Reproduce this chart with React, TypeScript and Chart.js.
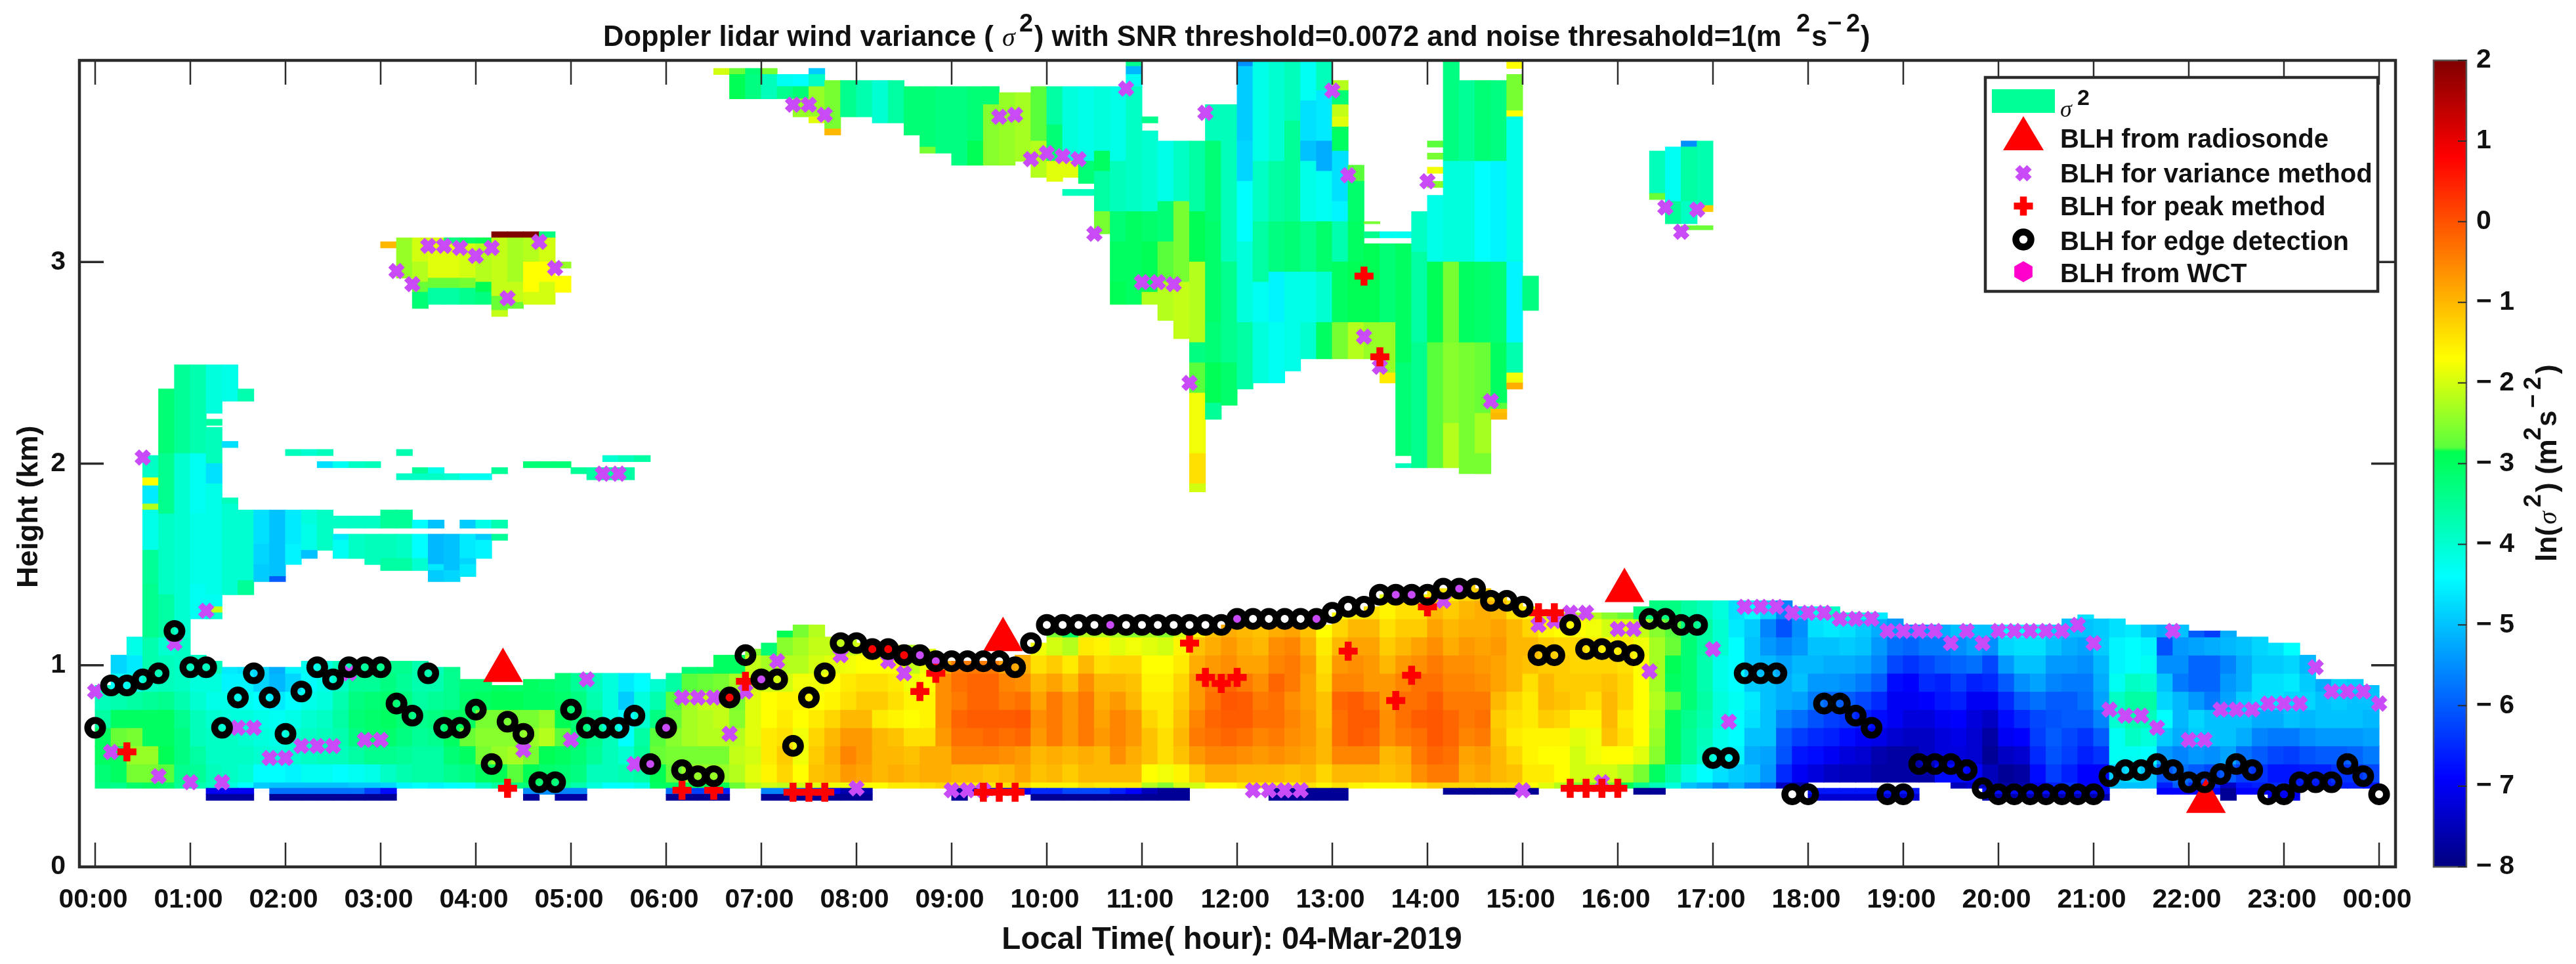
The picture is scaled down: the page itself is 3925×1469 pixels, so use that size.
import React, { useEffect, useRef } from "react";
import { Chart, registerables } from "chart.js";
Chart.register(...registerables);

const FONT = "'Liberation Sans'";
// height band edges (km) of the boundary-layer block
const BAND_EDGES = [.39,.42,.51,.60,.69,.78,.87,.96,1.05,1.14,1.23,1.32,1.41];
// every row: one 10-minute column: [top of layer, then ln(var) per band from the bottom up]
const HOUR_00 = [
[.90,-3.3,-3.2,-3,-3,-3.6,-3.8,-3.9],
[1.05,-3.4,-3,-3,-2.7,-3,-3.7,-4.4,-4.8],
[1.14,-3.1,-2.6,-2.4,-2.6,-3,-3.6,-4.2,-4.6,-4.2],
[1.14,-3,-2.6,-2.4,-3,-3,-3.5,-3.9,-3.7,-3.7],
[1.14,-3.1,-2.8,-2.9,-3,-3,-3.4,-3.8,-3.8,-4],
[1.14,-3.5,-3.4,-3.3,-3.3,-3.4,-3.7,-3.9,-3.9,-3.9]];
const HOUR_01 = [
[1.05,-3.7,-3.5,-3.6,-3.8,-3.8,-4,-4.1,-3.9],
[1.02,-3.9,-3.8,-3.9,-3.9,-4,-4.2,-4.1,-3.8],
[.99,-4.1,-3.9,-3.9,-3.9,-4.1,-4.2,-4.5,-4.6],
[.99,-4.4,-4,-3.9,-4,-4.1,-4.3,-4.5,-4.7],
[.99,-4.9,-4.4,-4,-4.1,-4.2,-4.4,-4.8,-4.8],
[.99,-5,-4.4,-4.1,-4.2,-4.3,-4.6,-5.1,-5.2]];
const HOUR_02 = [
[.99,-5,-4.5,-4,-4,-4.2,-4.4,-4.8,-4.5],
[1.02,-5,-4.3,-3.9,-3.9,-4,-4.2,-4.4,-4.3],
[1.02,-5,-4.3,-3.8,-3.8,-3.9,-4.1,-4.2,-4.1],
[1.02,-5,-4.4,-3.8,-3.7,-3.6,-3.7,-3.9,-3.8],
[1.02,-4.9,-4.3,-3.6,-3.3,-3.2,-3.3,-3.5,-3.6],
[1.02,-4.9,-4.2,-3.4,-3.1,-3.1,-3.2,-3.5,-3.5]];
const HOUR_03 = [
[1.02,-4.8,-3.9,-3.4,-3.1,-3,-3.1,-3.3,-3.4],
[1.02,-4.5,-3.7,-3.5,-3.3,-3.2,-3.3,-3.5,-3.4],
[1.02,-4.4,-3.6,-3.6,-3.5,-3.4,-3.6,-3.7,-3.7],
[.99,-4.5,-3.6,-3.6,-3.4,-3.3,-3.5,-3.7,-3.8],
[.99,-4.4,-3.4,-3.2,-3,-3.1,-3.4,-3.4,-3.4],
[.93,-4.4,-3.3,-3,-2.7,-3,-3.1,-3.2]];
const HOUR_04 = [
[.93,-3.9,-3,-2.6,-2.5,-2.6,-3,-3.2],
[.90,-3.6,-2.9,-2.4,-2.5,-2.6,-2.9,-3],
[.90,-3.3,-2.8,-2.3,-2.5,-2.6,-2.9,-3.1],
[.93,-3.2,-2.9,-2.6,-2.4,-2.6,-3,-3],
[.93,-3.2,-3.1,-2.9,-2.2,-2.4,-3,-3.1],
[.96,-3.4,-3.2,-3,-2.8,-2.9,-3.1,-3.2]];
const HOUR_05 = [
[.96,-3.7,-3.3,-3.2,-3.1,-3.2,-3.3,-3.5],
[.96,-4.1,-3.8,-3.5,-3.4,-3.5,-3.7,-3.8],
[.96,-4.4,-3.8,-3.8,-3.8,-4.1,-4.1,-4.1],
[.96,-4.4,-3.7,-4,-4.4,-4.4,-4.9,-4.6],
[.96,-4.2,-3.6,-3.5,-3.6,-4,-4.1,-4.4],
[.93,-3,-2.9,-2.7,-2.8,-3.3,-3.7,-4]];
const HOUR_06 = [
[.96,-3,-2.7,-2.6,-2.5,-2.7,-2.8,-3.6],
[.99,-2.9,-2.4,-2.6,-2.3,-2.3,-2.3,-2.8,-3.2],
[.99,-2.9,-2.4,-2.6,-2.2,-2.2,-2.1,-2.7,-3.1],
[1.05,-2.9,-2.4,-2.6,-2.2,-2.1,-2.1,-2.6,-3],
[1.05,-2.7,-2.2,-2.1,-2.2,-2.5,-2.6,-2.3,-3],
[1.08,-2.2,-1.9,-2,-1.9,-1.9,-1.9,-2,-2.1,-2.5]];
const HOUR_07 = [
[1.11,-2,-1.6,-1.5,-1.5,-1.7,-1.7,-2,-2.3,-3.2],
[1.17,-2.1,-1.3,-1.2,-1.4,-1.5,-1.6,-2,-2.2,-2.5,-2.9],
[1.2,-2,-1.7,-1.8,-1.8,-1.7,-1.6,-1.8,-2.2,-2.3,-2.6],
[1.2,-1.9,-1.1,-1.2,-1.3,-1.5,-1.7,-1.8,-2,-2.1,-2.2],
[1.14,-1.8,-1,-.9,-1,-1.3,-1.6,-1.7,-1.9,-2.1],
[1.14,-1.8,-.7,-.5,-.7,-1,-1.4,-1.5,-1.8,-2.1]];
const HOUR_08 = [
[1.11,-1.7,-.8,-.7,-.7,-1,-1.2,-1.4,-1.7,-1.9],
[1.11,-1.7,-1,-1,-1,-1.5,-1.2,-1.4,-1.7,-1.9],
[1.1,-1.5,-.9,-1,-1.1,-1.6,-1.4,-1.5,-1.7,-1.8],
[1.1,-1.5,-1,-1.1,-1.4,-1.7,-1.6,-1.8,-2.1,-2.2],
[1.08,-1.4,-.9,-.9,-1.4,-1.6,-1.6,-1.7,-1.8,-1.9],
[1.02,-1.3,-.9,-.9,-.7,-.6,-.6,-.6,-.9]];
const HOUR_09 = [
[1.02,-1.4,-1,-.5,-.3,-.2,-.4,-.3,-.4],
[1.02,-1.5,-1,-.5,-.3,-.1,-.2,-.2,-.4],
[1.02,-1.5,-1.1,-.5,-.2,-.1,-.2,-.2,-.4],
[1.02,-1.4,-1,-.6,-.3,-.1,-.4,-.5,-.8],
[1.05,-1.3,-.8,-.7,-.2,-.05,-.3,-.6,-.9],
[1.11,-1.6,-1.1,-1,-.7,-.6,-.8,-1,-1.4,-1.8]];
const HOUR_10 = [
[1.17,-1.6,-1,-.9,-.4,-.4,-.4,-.8,-1.2,-2,-2.6],
[1.17,-1.6,-1.2,-1,-.7,-.7,-.7,-1.1,-1.5,-2.2,-3],
[1.17,-1.4,-1,-.9,-.4,-.4,-.4,-.6,-1,-1.5,-2.2],
[1.17,-1.5,-1,-1,-.7,-.8,-.9,-1,-1.4,-1.6,-2.2],
[1.17,-1.5,-1,-.6,-.5,-.5,-.7,-1,-1.3,-1.9,-2.3],
[1.17,-1.5,-1,-.9,-.7,-.7,-1,-1.1,-1.3,-1.8,-2.5]];
const HOUR_11 = [
[1.17,-2.2,-1.7,-1.1,-1.1,-1.3,-1.5,-1.6,-1.7,-1.9,-2.3],
[1.17,-2.5,-1.8,-1.4,-1.4,-1.5,-1.5,-1.6,-1.7,-2,-2.5],
[1.17,-2,-1.6,-1.1,-1,-1.1,-1.2,-1.3,-1.5,-1.6,-2],
[1.17,-2,-1.2,-.7,-.4,-.5,-.7,-.7,-.9,-1.1,-1.6],
[1.17,-1.7,-.9,-.5,-.3,-.2,-.3,-.4,-.7,-.9,-1.1],
[1.2,-1.7,-.9,-.5,-.2,-.1,-.05,-.2,-.6,-.7,-.9]];
const HOUR_12 = [
[1.2,-1.5,-1,-.6,-.3,-.1,-.1,-.4,-.8,-.9,-1],
[1.2,-1.5,-1,-.7,-.5,-.3,-.4,-.6,-.8,-1,-1.1],
[1.2,-1.6,-1,-.6,-.4,-.3,-.3,-.2,-.5,-.6,-.9],
[1.2,-1.6,-1.1,-.7,-.6,-.5,-.6,-.4,-.4,-.5,-.8],
[1.2,-1.4,-1,-.8,-.7,-.7,-.8,-.8,-.7,-.9,-1.1],
[1.2,-1.6,-1.3,-1,-1,-1.1,-1.1,-1.3,-1.4,-1.5,-1.7]];
const HOUR_13 = [
[1.26,-1.4,-1,-.5,-.3,-.3,-.2,-.5,-.7,-1,-1.3,-1.7],
[1.26,-1.6,-1,-.5,-.1,-.1,-.1,-.5,-.6,-.8,-1,-1.5],
[1.29,-1.7,-1,-.5,-.2,-.1,-.3,-.7,-.7,-.8,-1,-1.4],
[1.35,-1.7,-1.1,-1,-.6,-.6,-.7,-.7,-1,-1.2,-1.4,-1.6,-1.9],
[1.35,-1.7,-1,-.9,-.4,-.3,-.3,-.5,-.7,-1,-1.2,-1.4,-1.7],
[1.35,-1.4,-.6,-.4,-.3,-.1,-.3,-.3,-.6,-.8,-1.2,-1.4,-1.7]];
const HOUR_14 = [
[1.38,-1.2,-.4,-.2,-.05,-.05,-.1,-.3,-.4,-.6,-.8,-1,-1.4],
[1.38,-1.3,-.4,-.3,-.2,-.2,-.4,-.5,-.6,-.9,-1,-1.2,-1.5],
[1.4,-1.3,-.9,-.8,-.5,-.4,-.4,-.5,-.6,-.7,-.9,-1,-1.3],
[1.38,-1.4,-.8,-.7,-.4,-.3,-.4,-.6,-.7,-.8,-.9,-.9,-1.2],
[1.35,-1.4,-1,-1,-1.1,-1.2,-1,-.8,-.8,-.7,-.8,-1,-1.3],
[1.32,-1.4,-1.1,-1.3,-1.5,-1.4,-1.3,-1,-1,-1,-1,-1.4]];
const HOUR_15 = [
[1.29,-1.7,-1.5,-1.6,-1.6,-1.5,-1.5,-1.4,-1.1,-1,-1.3,-1.6],
[1.27,-1.9,-1.5,-1.7,-1.6,-1.2,-1,-1,-1.2,-1.2,-1.6,-1.9],
[1.26,-2.2,-1.7,-1.7,-1.6,-1.3,-1.1,-1.2,-1.2,-1.3,-1.7,-2.1],
[1.26,-2.6,-2,-2,-1.9,-1.6,-1.2,-1.2,-1.3,-1.3,-1.7,-2.2],
[1.26,-2.5,-2,-1.8,-1.8,-1.6,-1.4,-1.2,-1.3,-1.5,-1.8,-2.2],
[1.26,-2.6,-2,-1.7,-1.1,-1,-1,-1.1,-1.3,-1.6,-2,-2.5]];
const HOUR_16 = [
[1.26,-2.9,-2.2,-1.7,-1.4,-1.5,-1.3,-1.3,-1.4,-1.5,-1.9,-2.7],
[1.29,-3.4,-2.6,-1.9,-1.7,-1.7,-1.7,-1.7,-1.7,-1.8,-2.1,-3.2],
[1.32,-3.8,-3,-2.5,-2.4,-2.3,-2.2,-2.3,-2.3,-2.3,-2.5,-3.3],
[1.32,-4.1,-3.6,-3,-3,-3,-2.8,-3,-2.9,-2.7,-2.8,-3.3],
[1.32,-5,-4.1,-3.5,-3.5,-3.4,-3.2,-3.2,-3.2,-3.2,-3.3,-3.6],
[1.32,-5.2,-4.4,-3.9,-3.8,-3.7,-3.6,-3.7,-3.7,-3.6,-3.6,-3.8]];
const HOUR_17 = [
[1.32,-5.6,-4.7,-4.2,-4.2,-4.1,-4.1,-4.2,-4.2,-4,-4,-4.1],
[1.32,-5.2,-4.9,-4.5,-4.4,-4.4,-4.3,-4.4,-4.4,-4.4,-4.6,-4.7],
[1.32,-5.7,-5,-5.2,-5,-4.7,-4.6,-4.9,-5,-5,-4.9,-4.4],
[1.32,-5.9,-5.4,-5.3,-5,-5,-5,-5,-5.1,-5.4,-5.6,-4.8],
[1.32,-7.4,-6.5,-6.1,-6,-5.6,-5.2,-5.2,-5.3,-5.6,-6.1,-5.6],
[1.29,-7.7,-7,-6.7,-6.3,-5.8,-5.3,-5,-5.1,-5.4,-5.5,-5]];
const HOUR_18 = [
[1.29,null,-7.2,-6.8,-6.5,-6.1,-5.7,-5.4,-5.1,-5,-4.7,-4.2,-3.9],
[1.29,null,-7.4,-7,-6.6,-6.3,-5.9,-5.4,-5.2,-5,-4.6,-3.9,-3.4],
[1.26,null,-7.5,-7.2,-6.8,-6.4,-6,-5.5,-5.2,-4.9,-4.7,-4],
[1.26,null,-7.5,-7.3,-7,-6.6,-6.2,-5.7,-5.3,-5,-4.9,-4.2],
[1.26,null,-7.7,-7.6,-7.1,-6.8,-6.5,-6,-5.6,-5.4,-5.2,-4.6],
[1.23,null,-7.7,-7.7,-7.3,-7,-7,-6.8,-6.2,-5.8,-5.4]];
const HOUR_19 = [
[1.2,null,-7.7,-7.7,-7.4,-7.2,-7,-6.9,-6.4,-5.9,-5.5],
[1.2,null,-7.7,-7.4,-7.4,-7.2,-6.9,-6.5,-6.2,-5.7,-5.4],
[1.2,null,-6.8,-7.2,-7.2,-7,-6.7,-6.6,-6,-5.7,-5.2],
[1.2,-7.5,-6.8,-7.2,-7.1,-6.9,-6.6,-6.3,-5.9,-5.5,-5],
[1.2,-7.3,-6.9,-7.3,-7.3,-7.2,-7,-6.6,-5.8,-5.3,-5],
[1.2,-7.5,-7.5,-7.8,-7.7,-7.4,-7,-6.5,-6.2,-5.5,-5]];
const HOUR_20 = [
[1.2,-7.7,-7.8,-7.4,-7,-6.8,-6.5,-6,-5.4,-4.8,-4.4],
[1.2,-7.6,-7.7,-7.3,-6.9,-6.5,-6,-5.5,-5,-4.7,-4.4],
[1.2,-7,-6.8,-6.5,-6.3,-6.2,-5.8,-5.3,-5,-4.7,-4.3],
[1.2,-6.6,-6.3,-6.1,-6,-6.1,-6,-5.6,-5.4,-5,-4.9],
[1.23,-6.4,-6.6,-6.3,-6.2,-6,-6,-5.7,-5.4,-5.2,-5],
[1.25,-6.9,-6.9,-6.6,-6.4,-6,-5.8,-5.7,-5.5,-5.3,-5,-4.7]];
const HOUR_21 = [
[1.23,-6.9,-6.9,-6.4,-6,-5.6,-5.3,-5.2,-5.1,-4.9,-4.9],
[1.23,-5,-4.9,-4.3,-4.3,-4,-3.9,-4.3,-4.5,-4.5,-4.7],
[1.2,-5,-4.7,-4.3,-3.9,-3.7,-3.6,-3.9,-4.4,-4.4,-4.6],
[1.2,-5,-5,-4.4,-4.1,-3.8,-3.6,-4,-4.3,-4.5,-5],
[1.2,-6.6,-6.1,-5.4,-4.9,-4.4,-4.8,-5,-5.5,-6.1,-5.2],
[1.2,-6,-5.8,-5.6,-5.2,-5.1,-5.1,-5.7,-5.5,-5.4,-5]];
const HOUR_22 = [
[1.17,-6.5,-6,-5.4,-4.9,-4.8,-5.4,-5.9,-5.9,-5.3,-6],
[1.17,-6.5,-6.2,-5.5,-5,-5,-5.7,-5.9,-5.9,-5.2,-6.3],
[1.17,-7.4,-6,-5.3,-5,-5,-5.3,-5.4,-5.6,-5.1,-5.2],
[1.14,-6.7,-6.3,-5.8,-5.2,-5,-4.9,-5.2,-5.2,-5],
[1.14,-6.6,-6.4,-6,-5.6,-5.2,-4.7,-4.7,-4.9,-4.8],
[1.11,-6.5,-6.7,-6.2,-5.7,-5.2,-4.7,-4.7,-4.9,-4.7]];
const HOUR_23 = [
[1.11,-6.6,-6.7,-6.3,-5.7,-5,-4.8,-4.6,-4.8,-4.4],
[1.05,-6.7,-6.6,-6.1,-5.5,-5.1,-4.8,-4.9,-5.1],
[.93,-6.7,-6.6,-6,-5.4,-5,-5,-5.2],
[.93,-6.6,-6.4,-6,-5.4,-5,-4.9,-4.8],
[.93,-6.6,-6.4,-5.9,-5.4,-5,-5,-4.9],
[.90,-6.7,-6.2,-5.7,-5.3,-5.1,-5,-5]];

// strips under the block: [first col, last col, lower km, upper km, ln(var)]
const STRIPS_NEAR_GROUND = [
[7,9,.36,.39,-7],[7,9,.33,.36,-7.7],[11,16,.36,.39,-5.8],[17,17,.36,.39,-6.3],[18,18,.36,.39,-6.8],[11,18,.33,.36,-7.8],
[27,27,.36,.39,-5.5],[27,27,.33,.36,-7.8],[28,28,.36,.39,-5.5],[29,30,.36,.39,-5.6],[29,30,.33,.36,-7.7],
[36,36,.36,.39,-5.8],[37,38,.36,.39,-6.3],[39,39,.36,.39,-6.6],[36,39,.33,.36,-7.8],
[42,43,.36,.39,-5.6],[44,44,.36,.39,-6],[45,45,.36,.39,-6.5],[46,46,.36,.39,-7],[47,48,.36,.39,-7.6],[42,48,.33,.36,-7.8],
[54,54,.33,.39,-7.8],[55,58,.36,.39,-7],[59,60,.36,.39,-6.5],[61,63,.36,.39,-6.2],[64,64,.36,.39,-6.6],[65,65,.36,.39,-6.9],[66,66,.36,.39,-7.5],[67,68,.36,.39,-7.8],[59,68,.33,.36,-7.8],
[74,78,.33,.39,-7.8],[85,90,.36,.39,-7.8],[97,98,.36,.39,-7.8],
[108,114,.36,.39,-6.7],[108,114,.33,.36,-7.3],[119,126,.36,.39,-6.8],[119,126,.33,.36,-7.6],
[130,133,.36,.39,-6.9],[134,134,.33,.39,-7.8],[135,136,.36,.39,-6.9],[137,138,.36,.39,-6.9],[137,138,.33,.36,-7]];

// [col, top km, bottom of run, ln(var), bottom of next run, ln(var) ...]
const TOWER_0030_0130 = [
[3,2.04,1.93,-3.9,1.89,-1.7,1.8,-4.6,1.77,-2.2,1.57,-4.2,1.4,-3.5,1.14,-3.4],
[4,2.37,2.05,-3.2,1.75,-3.4,1.35,-3.9,1.14,-3.6],
[5,2.49,2.05,-3.5,1.14,-4],
[6,2.49,2.05,-3.7,1.75,-4.3,1.4,-4.2,1.23,-4.3],
[7,2.49,2.25,-4.1],[7,2.22,2.19,-3.6],[7,2.18,2,-3.8,1.9,-4.7,1.35,-4.2,1.29,-4.3,1.26,-2.1,1.23,-4],
[8,2.49,2.31,-4.2],[8,2.11,2.08,-4.7],[8,1.83,1.8,-3.8,1.35,-4],
[9,2.37,2.31,-3.7],[9,1.77,1.42,-4,1.35,-3.5]];
const WING_0130_0420 = [
[10,1.77,1.6,-4.7,1.5,-4.8,1.415,-4.9],
[11,1.77,1.65,-5,1.44,-5,1.415,-6],
[12,1.77,1.6,-4.6,1.5,-4.5],
[13,1.77,1.7,-4.1,1.57,-4.2,1.53,-5],
[14,1.77,1.57,-3.9],
[15,1.74,1.68,-3.9],[15,1.65,1.62,-4.6,1.53,-4.3],
[16,1.74,1.68,-3.9],[16,1.65,1.53,-3.9],
[17,1.74,1.68,-3.9],[17,1.65,1.62,-3.8,1.5,-3.8],
[18,1.77,1.68,-3.5],[18,1.65,1.53,-3.8,1.47,-3.6],
[19,1.77,1.68,-3.5],[19,1.65,1.53,-3.9,1.47,-3.6],
[20,1.72,1.68,-4.4],[20,1.65,1.53,-4.4,1.47,-4],
[21,1.72,1.68,-5],[21,1.65,1.5,-5.1,1.47,-4.6,1.415,-4.9],
[22,1.65,1.5,-5,1.47,-5,1.415,-4.8],
[23,1.72,1.68,-4.9],[23,1.65,1.53,-4.6,1.5,-4.8,1.44,-4.6],
[24,1.72,1.68,-4.2],[24,1.65,1.62,-4.9,1.53,-4.5],
[25,1.72,1.68,-3.7],[25,1.65,1.62,-3.5]];
const THIN_LAYERS_2KM = [
[12,2.07,2.04,-3.8],[13,2.07,2.04,-4],[14,2.07,2.04,-3.8],
[14,2.01,1.98,-4.7],[15,2.01,1.98,-4.3],[16,2.01,1.98,-3.9],[17,2.01,1.98,-3.8],
[19,2.07,2.04,-3.7],[19,1.95,1.92,-3.9],[20,1.98,1.95,-3.5,1.92,-3.9],[21,1.98,1.95,-4.2,1.92,-3.9],[22,1.95,1.92,-4],[23,1.95,1.92,-4.3],[24,1.95,1.92,-4.3],[25,1.98,1.95,-3.5],
[27,2.01,1.98,-3.2],[28,2.01,1.98,-3.2],[29,2.01,1.98,-3.2],
[30,1.98,1.95,-3.5],[31,1.98,1.92,-3.6],[32,2.04,2.01,-4],[32,1.98,1.92,-3.6],[33,2.04,2.01,-3.8],[33,1.98,1.92,-3.6],[34,2.04,2.01,-3.6]];
const PATCH_3KM = [
[18,3.1,3.07,-1],
[19,3.12,2.92,-2.4],
[20,3.12,3,-2,2.9,-2.2,2.85,-2.7,2.77,-3.2],
[21,3.12,2.92,-1.9,2.87,-2.7,2.79,-3.6],
[22,3.12,3.09,-3.3,2.92,-1.9,2.87,-2.7,2.79,-3.6],
[23,3.12,3.09,-3,2.92,-2,2.87,-2.6,2.79,-3.4],
[24,3.12,3.09,-2.9,2.9,-2.2,2.85,-2.9,2.79,-3.3],
[25,3.15,3.12,2,2.83,-2.1,2.76,-2.7,2.73,-2.1],
[26,3.15,3.12,2,2.9,-2.3,2.8,-2.1,2.77,-2.7],
[27,3.15,3.12,2,3,-2.2,2.85,-1.7,2.79,-2],
[28,3.15,3.12,-3.3,3,-2,2.9,-1.7,2.79,-2],
[29,3,2.97,-2.4],[29,2.93,2.85,-1.7]];
const UPPER_0630_1100 = [
[39,3.96,3.93,-2],[40,3.96,3.93,-2.7,3.81,-2.9],[41,3.96,3.93,-3.2,3.81,-3.3],[42,3.96,3.93,-2.6,3.81,-3.8],
[43,3.93,3.87,-4.3,3.81,-3.4],[44,3.93,3.87,-4.4,3.81,-3.2,3.72,-2.4],
[45,3.96,3.93,-4.9,3.87,-3.9,3.72,-2.4,3.69,-1.9],[46,3.9,3.66,-2.6,3.63,-1],
[47,3.9,3.72,-3.4],[48,3.9,3.72,-3.7],[49,3.9,3.69,-4],[50,3.9,3.69,-3.6],
[51,3.87,3.63,-3.2],[52,3.87,3.57,-3.2,3.54,-2.6],[53,3.87,3.54,-3.3],[54,3.87,3.48,-3.3],
[55,3.87,3.6,-3.2,3.48,-2.9],[56,3.87,3.78,-3.2,3.48,-2.5],[57,3.84,3.48,-2.4],[58,3.84,3.5,-2.3],
[59,3.87,3.6,-2.8,3.42,-2.2],[60,3.87,3.68,-3.6,3.5,-3.2,3.4,-1.9],[61,3.87,3.5,-4.1,3.42,-1.9],[61,3.36,3.33,-3.8],
[62,3.87,3.5,-4.2,3.39,-3.2],[62,3.36,3.33,-3.8],
[63,3.87,3.55,-4.1,3.45,-3,3.25,-3.6,3.14,-2.6],
[64,3.87,3.5,-4.2,3.25,-3.8,3.1,-3.2,2.9,-3,2.79,-2.9],
[65,4,3.97,-3.4,3.93,-5.1,3.87,-4.3,3.25,-3.9,3.1,-3,2.79,-3],
[66,3.72,3.69,-3.4],[66,3.65,3.25,-4,3.1,-3.1,2.85,-2.9,2.79,-2.2],
[67,3.6,3.3,-4.2,3.1,-3.2,2.9,-2.8,2.71,-2.2],
[68,3.6,3.3,-3.9,2.9,-2.6,2.62,-2.1],
[69,3.6,3.25,-3.6,3,-2.9,2.6,-2.2,2.5,-3.3,2.35,-2.8,2.05,-1.8,1.9,-1.4,1.86,-2],
[70,3.78,3.6,-3.8,3.2,-3.2,2.7,-3.1,2.5,-3.2,2.3,-2.9,2.22,-3.5],
[71,3.78,3,-3.8,2.5,-3.4,2.29,-3.1]];
const UPPER_1200_1500 = [
[72,4,3.97,-5.5,3.6,-4.9,3.4,-4.8,3.1,-4.4,2.7,-4.1,2.37,-3.6],
[73,4,3.5,-4.2,3.2,-3.9,2.9,-3.6,2.7,-4.3,2.4,-4.1],
[74,4,3.5,-4,3.2,-3.6,2.95,-3.3,2.7,-4.5,2.4,-4.3],
[75,4,3.7,-3.8,3.2,-3.5,2.95,-3.2,2.46,-4.2],
[76,4,3.8,-4.3,3.6,-4.7,3.5,-5,3.2,-4.2,2.95,-3.4,2.7,-4.2,2.52,-4],
[77,4,3.85,-3.8,3.6,-4.6,3.45,-5.2,3.2,-4.3,2.95,-3.1,2.7,-4,2.52,-3],
[78,3.9,3.85,-2.2,3.78,-3.2,3.72,-2.1,3.67,-1.9,3.55,-3,3.3,-4.7,3.2,-4.5,3,-3.7,2.7,-3,2.52,-2.6],
[79,3.48,3.4,-2.8,3.2,-3.1,3,-3,2.7,-2.9,2.52,-2.2],
[80,3.2,3.19,-2.6],[80,3.15,3.12,-3.4],[80,3.09,2.7,-2.9,2.52,-2.4],
[81,3.15,3.12,-4.3],[81,3.09,2.7,-3.2,2.45,-2.4,2.4,-1.5],
[82,3.15,3.12,-4.3],[82,3.09,2.5,-3,2.04,-3.2],[82,2,1.98,-3.8],
[83,3.25,3.05,-3.9,2.6,-3.6,1.98,-3.4],
[84,3.6,3.57,-2.8],[84,3.54,3.51,-2.6],[84,3.47,3.44,-1.8],[84,3.4,3.37,-2.5],[84,3.33,3,-4.2,2.6,-2.9,1.98,-2.8],
[85,4,3.5,-3.3,3,-4.1,2.6,-2.6,2.2,-2.5,1.98,-2.2],
[86,3.9,3.5,-3.5,3,-4.1,2.6,-3,1.95,-2.6],
[87,3.9,3.5,-3.2,3,-4.4,2.6,-3.1,2.25,-2.7,2.05,-2.3,1.95,-2.6],
[88,3.9,3.5,-3.3,3,-4.5,2.6,-3.2,2.3,-3,2.27,-2.8,2.25,-1.1,2.22,-1],
[89,4,3.96,-1.7],[89,3.93,3.75,-2.6,3.72,-1.7,3,-4.2,2.6,-4.5,2.45,-3.7,2.4,-1.8,2.37,-.9],
[90,2.93,2.76,-3.3]];
const UPPER_1620_1640 = [
[98,3.55,3.34,-3.8,3.31,-2.7],
[99,3.57,3.3,-4.3,3.19,-3.5],
[100,3.6,3.57,-5.5,3.3,-3.6,3.19,-3.9],[100,3.18,3.16,-2.7],
[101,3.6,3.28,-3.7,3.25,-1.2],[101,3.18,3.16,-2.7]];

// boundary layer height series; x index = 10-minute step
const EDGE_BLH = [.69,.90,.90,.93,.96,1.17,.99,.99,.69,.84,.96,.84,.66,.87,.99,.93,.99,.99,.99,.81,.75,.96,.69,.69,.78,.51,.72,.66,.42,.42,.78,.69,.69,.69,.75,.51,
.69,.48,.45,.45,.84,1.05,.93,.93,.60,.84,.96,1.11,1.11,1.08,1.08,1.05,1.05,1.02,1.02,1.02,1.02,1.02,.99,1.11,1.2,1.2,1.2,1.2,1.2,1.2,1.2,1.2,1.2,1.2,1.2,1.2,
1.23,1.23,1.23,1.23,1.23,1.23,1.26,1.29,1.29,1.35,1.35,1.35,1.35,1.38,1.38,1.38,1.32,1.32,1.29,1.05,1.05,1.2,1.08,1.08,1.07,1.05,1.23,1.23,1.2,1.2,.54,.54,.96,.96,.96,.36,
.36,.81,.81,.75,.69,.36,.36,.51,.51,.51,.48,.39,.36,.36,.36,.36,.36,.36,.36,.45,.48,.48,.51,.48,.42,.42,.46,.51,.48,.36,.36,.42,.42,.42,.51,.45,.36];
const VARIANCE_IDX = [0,1,4,6,8,5,7,9,10,11,12,13,14,15,16,17,18,27,30,31,34,35,36,3,32,33,
37,38,39,40,41,42,43,47,48,50,51,52,53,54,55,56,64,72,
73,74,75,76,77,82,83,85,86,90,91,92,93,94,95,96,97,98,102,103,104,105,106,107,108,109,110,111,112,113,114,115,116,117,118,119,120,121,122,123,124,125,126,127,128,129,130,131,132,133,134,135,136,137,138,139,140,141,142,143,144,
44,45,46,57,58,59,60,61,62,63,65,66,67,68,69,70,78,79,80,81,84,88,99,101,100,
19,20,21,22,23,24,25,26,28,29];
const VARIANCE_BLH = [.87,.57,.45,.42,.42,1.11,1.27,.69,.69,.54,.54,.60,.60,.60,.96,.63,.63,.58,.63,.93,.51,.51,.69,2.03,1.95,1.95,
.84,.84,.84,.66,.87,.93,1.02,1.05,.39,1.02,.96,1.05,1.02,.38,.38,.38,1.2,1.23,
.38,.38,.38,.38,1.23,1.35,1.35,1.32,1.38,.38,1.2,1.22,1.26,1.26,.42,1.18,1.18,.97,1.08,.72,1.29,1.29,1.29,1.26,1.26,1.26,1.23,1.23,1.23,1.17,1.17,1.17,1.17,1.11,1.17,1.11,1.17,1.17,1.17,1.17,1.17,1.2,1.11,.78,.75,.75,.69,1.17,.63,.63,.78,.78,.78,.81,.81,.81,.99,.87,.87,.87,.81,
3.78,3.78,3.73,3.72,3.73,3.51,3.54,3.525,3.51,3.14,3.86,2.9,2.9,2.89,2.4,3.74,3.85,3.43,2.63,2.48,3.4,2.31,3.27,3.26,3.15,
2.955,2.89,3.08,3.08,3.07,3.03,3.07,2.82,3.1,2.97];
const PEAK_IDX = [2,26,37,39,44,45,46,49,50,51,53,52,56,57,58,69,70,71,72,41,40,79,83,82,84,91,92,93,94,95,96,80,81];
const PEAK_BLH = [.57,.39,.38,.38,.37,.37,.37,1.08,1.08,1.05,.96,.87,.37,.37,.37,1.11,.94,.91,.94,.92,.84,1.07,.95,.825,1.29,1.26,1.26,.39,.39,.39,.39,2.93,2.53];
const RADIOSONDE_HOUR = [4.285,9.54,16.07,22.18];
const RADIOSONDE_BLH = [.974,1.127,1.37,.325];
const WCT_BLH: number[] = [];

const COLOR_STOPS: [number, number[]][] = [[-8,[0,0,128]],[-6.9,[0,0,255]],[-4.4,[0,255,255]],[-3.3,[0,255,128]],[-2.85,[0,255,80]],[-2.8,[90,255,60]],[-1.7,[255,255,0]],[.8,[255,0,0]],[2,[128,0,0]]];
function colorOf(v: number) {
  for (let i = 1; i < COLOR_STOPS.length; i++) {
    const [b, cb] = COLOR_STOPS[i];
    if (v <= b) {
      const [a, ca] = COLOR_STOPS[i - 1];
      const t = Math.max(0, (v - a) / (b - a));
      return `rgb(${ca.map((c, k) => Math.round(c + (cb[k] - c) * t)).join(",")})`;
    }
  }
  return "rgb(128,0,0)";
}

type Cell = { x: number; y: [number, number]; v: number };
function buildCells(): Cell[] {
  const out: Cell[] = [];
  const add = (col: number, lo: number, hi: number, v: number) => out.push({ x: (col + 0.5) / 6, y: [lo, hi], v });
  const hours = [HOUR_00,HOUR_01,HOUR_02,HOUR_03,HOUR_04,HOUR_05,HOUR_06,HOUR_07,HOUR_08,HOUR_09,HOUR_10,HOUR_11,HOUR_12,HOUR_13,HOUR_14,HOUR_15,HOUR_16,HOUR_17,HOUR_18,HOUR_19,HOUR_20,HOUR_21,HOUR_22,HOUR_23];
  hours.flat().forEach((row: any, col) => {
    const top = row[0];
    row.slice(1).forEach((v: number | null, k: number) => {
      if (v === null || BAND_EDGES[k] >= top) return;
      add(col, BAND_EDGES[k], k === row.length - 2 ? top : Math.min(BAND_EDGES[k + 1], top), v);
    });
  });
  STRIPS_NEAR_GROUND.forEach(([c0, c1, lo, hi, v]) => { for (let c = c0; c <= c1; c++) add(c, lo, hi, v); });
  [...TOWER_0030_0130, ...WING_0130_0420, ...THIN_LAYERS_2KM, ...PATCH_3KM, ...UPPER_0630_1100, ...UPPER_1200_1500, ...UPPER_1620_1640].forEach((r) => {
    let hi = r[1];
    for (let i = 2; i + 1 < r.length; i += 2) { add(r[0], r[i], hi, r[i + 1]); hi = r[i]; }
  });
  return out;
}

const INK = "#2b2b2b";
const PURPLE = "#c84bf7";
type Run = { t: string; x: number; f: string; dy?: number };
const B = (n: number) => `bold ${n}px ${FONT}`;
const SIG = (n: number) => `italic ${n}px 'Liberation Serif'`;
const zeroPad = (s: any) => { s.paddingTop = 0; s.paddingBottom = 0; s.paddingLeft = 0; s.paddingRight = 0; };

const decor = {
  id: "decor",
  afterDatasetsDraw(chart: any) {
    const { ctx, chartArea: a, scales } = chart;
    const { x, y, cb } = scales;
    ctx.save();
    ctx.strokeStyle = INK;
    ctx.fillStyle = "#111";
    // ticks inside the box, all four sides
    ctx.lineWidth = 2.5;
    ctx.beginPath();
    x.ticks.forEach((t: any) => {
      const p = x.getPixelForValue(t.value);
      ctx.moveTo(p, a.bottom); ctx.lineTo(p, a.bottom - 37);
      ctx.moveTo(p, a.top); ctx.lineTo(p, a.top + 37);
    });
    ctx.stroke();
    ctx.lineWidth = 3.5;
    ctx.beginPath();
    y.ticks.forEach((t: any) => {
      const p = y.getPixelForValue(t.value);
      ctx.moveTo(a.left, p); ctx.lineTo(a.left + 37, p);
      ctx.moveTo(a.right, p); ctx.lineTo(a.right - 37, p);
    });
    ctx.stroke();
    ctx.lineWidth = 4.5;
    ctx.strokeRect(a.left, a.top, a.right - a.left, a.bottom - a.top);

    // colour bar
    const cbL = 3708, cbR = 3758;
    const p2 = cb.getPixelForValue(2), pm8 = cb.getPixelForValue(-8);
    const g = ctx.createLinearGradient(0, pm8, 0, p2);
    COLOR_STOPS.forEach(([v, c]) => g.addColorStop((v + 8) / 10, `rgb(${c.join(",")})`));
    ctx.fillStyle = g;
    ctx.fillRect(cbL, p2, cbR - cbL, pm8 - p2);
    ctx.lineWidth = 2.5;
    ctx.strokeStyle = "#555";
    ctx.strokeRect(cbL, p2, cbR - cbL, pm8 - p2);
    ctx.strokeStyle = INK;
    ctx.lineWidth = 2;
    ctx.beginPath();
    cb.ticks.forEach((t: any) => {
      const p = cb.getPixelForValue(t.value);
      ctx.moveTo(cbR, p); ctx.lineTo(cbR - 13, p);
    });
    ctx.stroke();

    // text
    ctx.fillStyle = "#111";
    ctx.textBaseline = "alphabetic";
    ctx.textAlign = "left";
    const T = B(43.5), S = B(38);
    const titleRuns: Run[] = [
      { t: "Doppler lidar wind variance (", x: 919, f: T },
      { t: "\u03c3", x: 1527, f: SIG(40) },
      { t: "2", x: 1553, f: S, dy: -22 },
      { t: ") with SNR threshold=0.0072 and noise thresahold=1(m", x: 1576, f: T },
      { t: "2", x: 2737, f: S, dy: -22 },
      { t: "s", x: 2760, f: T },
      { t: "\u2212", x: 2784, f: S, dy: -22 },
      { t: "2", x: 2813, f: S, dy: -22 },
      { t: ")", x: 2835, f: T },
    ];
    titleRuns.forEach((r) => { ctx.font = r.f; ctx.fillText(r.t, r.x, 70 + (r.dy || 0)); });
    ctx.font = B(47.5);
    ctx.textAlign = "center";
    ctx.fillText("Local Time( hour): 04-Mar-2019", 1877, 1446);
    ctx.textAlign = "left";
    ctx.save();
    ctx.translate(57, 896);
    ctx.rotate(-Math.PI / 2);
    ctx.font = B(45);
    ctx.fillText("Height (km)", 0, 0);
    ctx.restore();
    // colour bar title
    ctx.save();
    ctx.translate(3895, 0);
    ctx.rotate(-Math.PI / 2);
    const C = B(44), CS = B(36);
    const cbRuns: Run[] = [
      { t: "ln(", x: -856, f: C },
      { t: "\u03c3", x: -799, f: SIG(40) },
      { t: "2", x: -773, f: CS, dy: -24 },
      { t: ") (m", x: -750, f: C },
      { t: "2", x: -671, f: CS, dy: -24 },
      { t: "s", x: -650, f: C },
      { t: "\u2212", x: -622, f: CS, dy: -24 },
      { t: "2", x: -594, f: CS, dy: -24 },
      { t: ")", x: -570, f: C },
    ];
    cbRuns.forEach((r) => { ctx.font = r.f; ctx.fillText(r.t, r.x, r.dy || 0); });
    ctx.restore();

    // legend
    const L = 3025, R = 3623, TP = 118, BT = 444;
    ctx.fillStyle = "#fff";
    ctx.fillRect(L, TP, R - L, BT - TP);
    ctx.strokeStyle = INK;
    ctx.lineWidth = 4.5;
    ctx.strokeRect(L, TP, R - L, BT - TP);
    ctx.fillStyle = colorOf(-3.5);
    ctx.fillRect(3035, 136, 96, 36);
    ctx.fillStyle = "#111";
    ctx.font = SIG(36);
    ctx.fillText("\u03c3", 3139, 178);
    ctx.font = B(34);
    ctx.fillText("2", 3165, 160);
    const mx = 3083;
    const rows = [
      { y: 211, t: "BLH from radiosonde" },
      { y: 264, t: "BLH for variance method" },
      { y: 314, t: "BLH for peak method" },
      { y: 367, t: "BLH for edge detection" },
      { y: 416, t: "BLH from WCT" },
    ];
    ctx.font = B(40);
    rows.forEach((r) => ctx.fillText(r.t, 3139, r.y + 14));
    ctx.fillStyle = "#f00";
    ctx.beginPath();
    ctx.moveTo(mx, 177); ctx.lineTo(mx + 31, 229); ctx.lineTo(mx - 31, 229); ctx.closePath(); ctx.fill();
    ctx.strokeStyle = PURPLE;
    ctx.lineWidth = 10;
    ctx.beginPath();
    ctx.moveTo(mx - 9, 255); ctx.lineTo(mx + 9, 273); ctx.moveTo(mx + 9, 255); ctx.lineTo(mx - 9, 273);
    ctx.stroke();
    ctx.strokeStyle = "#f00";
    ctx.lineWidth = 10.5;
    ctx.beginPath();
    ctx.moveTo(mx - 14.5, 314); ctx.lineTo(mx + 14.5, 314); ctx.moveTo(mx, 299.5); ctx.lineTo(mx, 328.5);
    ctx.stroke();
    ctx.strokeStyle = "#000";
    ctx.beginPath();
    ctx.arc(mx, 365, 11.5, 0, Math.PI * 2);
    ctx.stroke();
    ctx.fillStyle = "#ff00cc";
    ctx.beginPath();
    for (let i = 0; i < 6; i++) {
      const an = Math.PI / 6 + (i * Math.PI) / 3;
      ctx.lineTo(mx + 16 * Math.cos(an), 414 + 16 * Math.sin(an));
    }
    ctx.closePath();
    ctx.fill();
    ctx.restore();
  },
};

export default function App() {
  const ref = useRef<HTMLCanvasElement>(null);
  useEffect(() => {
    const cells = buildCells();
    const chart = new Chart(ref.current as HTMLCanvasElement, {
      type: "scatter",
      data: {
        datasets: [
          {
            type: "bar", label: "\u03c3\u00b2", data: cells as any, order: 10, grouped: false,
            barPercentage: 1, categoryPercentage: 1, borderWidth: 0, inflateAmount: 0.5,
            backgroundColor: (c: any) => (c.raw ? colorOf(c.raw.v) : "#00ff9a"),
          } as any,
          {
            label: "BLH from radiosonde", order: 5,
            data: RADIOSONDE_HOUR.map((h, i) => ({ x: h, y: RADIOSONDE_BLH[i] })),
            pointStyle: "triangle", pointRadius: 35, backgroundColor: "#f00", borderWidth: 0,
          },
          {
            label: "BLH for variance method", order: 4,
            data: VARIANCE_IDX.map((i, k) => ({ x: i / 6, y: VARIANCE_BLH[k] })),
            pointStyle: "crossRot", pointRadius: 12.7, pointBorderWidth: 10, borderColor: PURPLE, backgroundColor: PURPLE,
          },
          {
            label: "BLH for peak method", order: 3,
            data: PEAK_IDX.map((i, k) => ({ x: i / 6, y: PEAK_BLH[k] })),
            pointStyle: "cross", pointRadius: 14.5, pointBorderWidth: 10.5, borderColor: "#f00", backgroundColor: "#f00",
          },
          {
            label: "BLH for edge detection", order: 2,
            data: EDGE_BLH.map((h, i) => ({ x: i / 6, y: h })),
            pointStyle: "circle", pointRadius: 11.3, pointBorderWidth: 10.5, borderColor: "#000", backgroundColor: "rgba(0,0,0,0)",
          },
          {
            label: "BLH from WCT", order: 1,
            data: WCT_BLH.map((h, i) => ({ x: i / 6, y: h })),
            pointStyle: "rectRot", pointRadius: 15, backgroundColor: "#ff00cc", borderWidth: 0,
          },
        ],
      },
      options: {
        animation: false, responsive: false, devicePixelRatio: 1, events: [],
        layout: { autoPadding: false, padding: { top: 92, left: 0, right: 0, bottom: 0 } },
        plugins: { legend: { display: false }, tooltip: { enabled: false }, title: { display: false } },
        scales: {
          x: {
            type: "linear", min: -24 / 145, max: 3505 / 145, offset: false,
            grid: { display: false, drawTicks: false, offset: false }, border: { display: false },
            afterFit: (s: any) => { s.height = 148; zeroPad(s); },
            ticks: {
              stepSize: 1, includeBounds: false, autoSkip: false, maxRotation: 0, padding: 26, labelOffset: -3,
              color: "#111", font: { family: "Liberation Sans", size: 41, weight: "bold" },
              callback: (v: any) => `${String(v % 24).padStart(2, "0")}:00`,
            },
          },
          y: {
            type: "linear", min: 0, max: 4, position: "left",
            grid: { display: false, drawTicks: false }, border: { display: false },
            afterFit: (s: any) => { s.width = 121; zeroPad(s); },
            ticks: {
              stepSize: 1, includeBounds: false, padding: 21, color: "#111", font: { family: "Liberation Sans", size: 41, weight: "bold" },
              callback: (v: any) => (v === 4 ? "" : `${v}`),
            },
          },
          cb: {
            type: "linear", min: -8, max: 2, position: "right",
            grid: { display: false, drawTicks: false }, border: { display: false },
            afterFit: (s: any) => { s.width = 275; zeroPad(s); },
            ticks: {
              stepSize: 1, padding: 123, crossAlign: "near", color: "#111",
              font: { family: "Liberation Sans", size: 41, weight: "bold" },
              callback: (v: any) => (v < 0 ? `\u2212 ${Math.abs(v)}` : `${v}`),
            },
          },
        },
      } as any,
      plugins: [decor],
    });
    return () => chart.destroy();
  }, []);
  return (
    <div style={{ position: "absolute", left: 0, top: 0, width: 3925, height: 1469, background: "#fff" }}>
      <canvas ref={ref} width={3925} height={1469} style={{ display: "block" }} />
    </div>
  );
}
